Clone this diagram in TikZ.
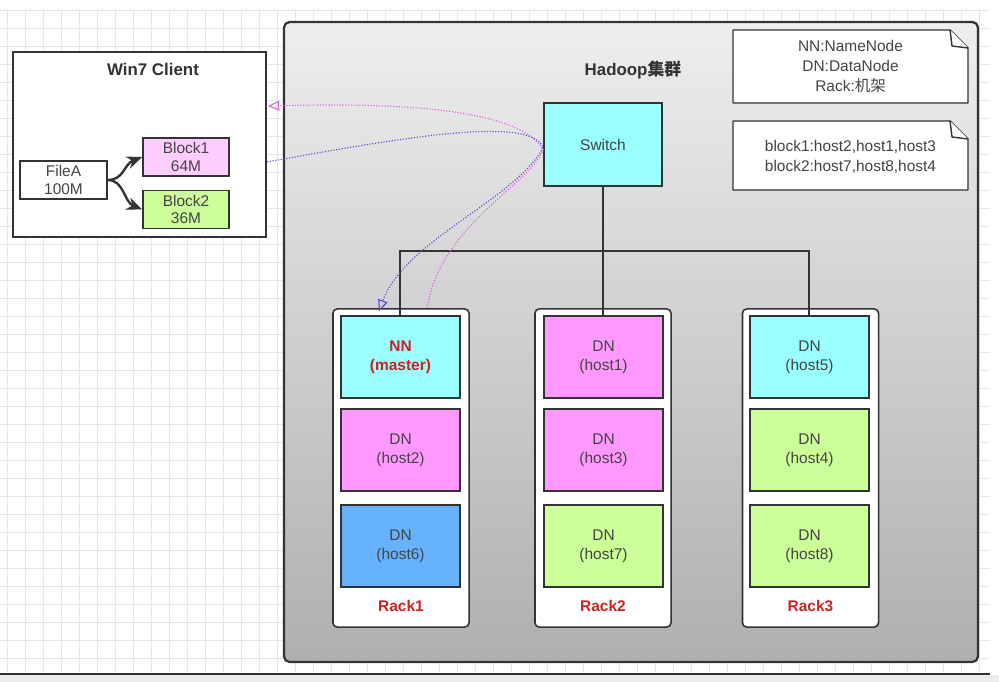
\documentclass[tikz,border=0pt]{standalone}
\usepackage{fontspec}
\setmainfont{Liberation Sans}
\newfontfamily\cjk{Noto Sans CJK SC}
\usetikzlibrary{calc,arrows.meta}
\definecolor{frame}{HTML}{333333}
\definecolor{cyanbox}{HTML}{99FFFF}
\definecolor{pinkbox}{HTML}{FF99FF}
\definecolor{bluebox}{HTML}{66B2FF}
\definecolor{greenbox}{HTML}{CCFF99}
\definecolor{lightpink}{HTML}{FFCCFF}
\definecolor{rackred}{HTML}{CC2222}
\definecolor{textgray}{HTML}{444444}
\definecolor{gridc}{HTML}{E6E6E6}
\definecolor{clustertop}{HTML}{EEEEEE}
\definecolor{clusterbot}{HTML}{AFAFAF}
\definecolor{pinkdot}{HTML}{E060E0}
\definecolor{bluedot}{HTML}{5050D0}

\tikzset{
  host/.style={draw=frame, line width=1.1pt, minimum width=2.975cm, minimum height=2.05cm, align=center, text=textgray, font=\fontsize{11}{13.5}\selectfont},
  rack/.style={draw=frame, fill=white, line width=1.1pt, rounded corners=3pt, minimum width=3.4cm, minimum height=7.95cm},
  rackname/.style={text=rackred, font=\fontsize{11}{13}\selectfont\bfseries},
  blockbox/.style={draw=frame, line width=1.1pt, minimum width=2.15cm, minimum height=0.95cm, align=center, text=textgray, font=\fontsize{11}{12.5}\selectfont, inner sep=0pt},
  notebox/.style={draw=frame, fill=white, line width=1pt, line join=round},
  notetext/.style={align=center, text=textgray, font=\fontsize{11}{14}\selectfont},
  title/.style={text=frame, font=\fontsize{12}{14}\selectfont\bfseries},
  link/.style={draw=frame, line width=1.6pt},
  dotlink/.style={dash pattern=on 0.8pt off 1.2pt, line width=0.8pt, -{Triangle[open,length=8pt,width=7pt]}},
}

\begin{document}
\begin{tikzpicture}[x=0.025cm, y=-0.025cm]
\useasboundingbox (0,0) rectangle (999,682);
% background grid
\foreach \gx in {7,25,...,990} \draw[gridc, line width=0.4pt] (\gx,10) -- (\gx,672);
\foreach \gy in {10,28,...,672} \draw[gridc, line width=0.4pt] (0,\gy) -- (990,\gy);
\fill[gray!15] (0,675) rectangle (999,682);
\draw[frame, line width=1.4pt] (0,674) -- (990,674);

% cluster
\draw[frame, line width=1.6pt, rounded corners=4pt, top color=clustertop, bottom color=clusterbot] (284,22) rectangle (978,662);
\node[title] (hadoop) at (633,70) {Hadoop{\cjk 集群}};

% notes
\draw[notebox] (733,30) -- (950,30) -- (968,48) -- (968,103) -- (733,103) -- cycle;
\draw[notebox] (950,30) -- (952,46) -- (968,48);
\node[notetext] (legend) at (850.5,66.5) {NN:NameNode\\DN:DataNode\\Rack:{\cjk 机架}};
\draw[notebox] (733,121) -- (950,121) -- (968,139) -- (968,190) -- (733,190) -- cycle;
\draw[notebox] (950,121) -- (952,137) -- (968,139);
\node[notetext] (placement) at (850.5,157) {block1:host2,host1,host3\\block2:host7,host8,host4};

% client
\node[draw=frame, fill=white, line width=1.3pt, minimum width=6.325cm, minimum height=4.625cm] (client) at (139.5,144.5) {};
\node[title] (clientname) at (153,69) {Win7 Client};
\node[blockbox, fill=white, minimum width=2.175cm] (filea) at (63.5,180) {FileA\\100M};
\node[blockbox, fill=lightpink] (block1) at (186,157) {Block1\\64M};
\node[blockbox, fill=greenbox] (block2) at (186,209.5) {Block2\\36M};
\draw[link, line width=1.7pt, -{Stealth[length=11pt,width=9pt]}] (filea.east) .. controls (124,180) and (124,164) .. (block1.west);
\draw[link, line width=1.7pt, -{Stealth[length=11pt,width=9pt]}] (filea.east) .. controls (124,180) and (124,202) .. (block2.west);

% switch and racks
\node[host, fill=cyanbox, minimum width=2.95cm, minimum height=2.075cm] (switch) at (603,144.5) {Switch};
\foreach \r/\cx in {1/401,2/603,3/810.5} {
  \node[rack] (rack\r) at (\cx,468) {};
  \node[rackname] (rackname\r) at (\cx,606) {Rack\r};
}
\coordinate (bus) at (603,251);
\draw[link] (switch.south) -- (603,316);
\draw[link] (400,316) |- (bus) -| (809,316);

\node[host, fill=cyanbox, text=rackred, font=\fontsize{11}{13.5}\selectfont\bfseries] (nn) at (400.5,357) {NN\\(master)};
\node[host, fill=pinkbox] (dn2) at (400.5,450) {DN\\(host2)};
\node[host, fill=bluebox] (dn6) at (400.5,546) {DN\\(host6)};
\node[host, fill=pinkbox] (dn1) at (603.5,357) {DN\\(host1)};
\node[host, fill=pinkbox] (dn3) at (603.5,450) {DN\\(host3)};
\node[host, fill=greenbox] (dn7) at (603.5,546) {DN\\(host7)};
\node[host, fill=cyanbox] (dn5) at (809.5,357) {DN\\(host5)};
\node[host, fill=greenbox] (dn4) at (809.5,450) {DN\\(host4)};
\node[host, fill=greenbox] (dn8) at (809.5,546) {DN\\(host8)};

% data flow
\coordinate (nnout) at ($(rack1.north)+(26,0)$);
\coordinate (nnin) at ($(rack1.north)+(-22,3)$);
\coordinate (clientin) at ($(client.east)+(1,-38.5)$);
\coordinate (clientout) at ($(client.east)+(0,17.5)$);
\draw[dotlink, pinkdot] (nnout) .. controls (440,225) and (530,185) .. ($(switch.west)+(0,5)$) .. controls (520,112) and (420,102) .. (clientin);
\draw[dotlink, bluedot] (clientout) .. controls (400,138) and (530,115) .. ($(switch.west)+(0,3)$) .. controls (515,200) and (405,240) .. (nnin);
\end{tikzpicture}
\end{document}
